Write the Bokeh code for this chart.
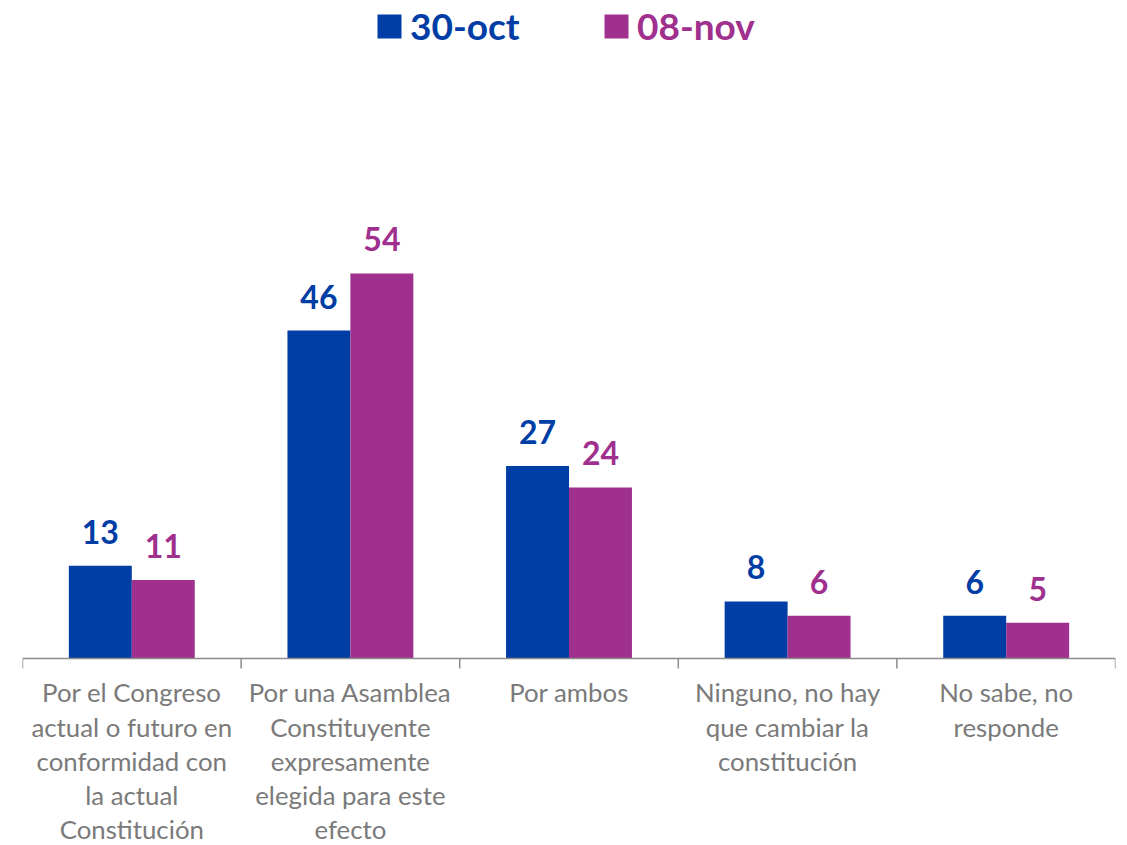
import math
from bokeh.plotting import figure
from bokeh.models import ColumnDataSource, Range1d, Legend, LegendItem, Span
from bokeh.core.properties import value
from bokeh.embed import file_html
from bokeh.resources import INLINE

categories = [
    "Por el Congreso\nactual o futuro en\nconformidad con\nla actual\nConstitución",
    "Por una Asamblea\nConstituyente\nexpresamente\nelegida para este\nefecto",
    "Por ambos",
    "Ninguno, no hay\nque cambiar la\nconstitución",
    "No sabe, no\nresponde",
]
series_names = ["30-oct", "08-nov"]
oct30 = [13, 46, 27, 8, 6]
nov08 = [11, 54, 24, 6, 5]

BLUE = "#003DA5"
PURPLE = "#A0308E"
GREY_TXT = "#7A7A7A"
AXIS_GREY = "#8C8C8C"

n = len(categories)
centers = [i + 0.5 for i in range(n)]
bounds = list(range(n + 1))
bw = 0.288
x_oct = [c - bw / 2 for c in centers]
x_nov = [c + bw / 2 for c in centers]

src_oct = ColumnDataSource(dict(x=x_oct, top=oct30, lbl=[str(v) for v in oct30]))
src_nov = ColumnDataSource(dict(x=x_nov, top=nov08, lbl=[str(v) for v in nov08]))
src_cat = ColumnDataSource(dict(x=centers, y=[0] * n, txt=categories))
src_tick = ColumnDataSource(dict(x=bounds, y=[0] * len(bounds)))

p = figure(width=1127, height=845, output_backend="svg", toolbar_location=None,
           x_range=Range1d(0, n), y_range=Range1d(-26.23, 92.29),
           x_axis_location=None, y_axis_location=None,
           min_border_left=22, min_border_right=12, min_border_top=0, min_border_bottom=0)
p.outline_line_color = None
p.xgrid.visible = False
p.ygrid.visible = False
p.background_fill_color = "white"
p.border_fill_color = "white"

r1 = p.vbar(x="x", top="top", width=bw, bottom=0, source=src_oct, fill_color=BLUE, line_color=None)
r2 = p.vbar(x="x", top="top", width=bw, bottom=0, source=src_nov, fill_color=PURPLE, line_color=None)

# category axis: baseline, boundary ticks and labels
p.add_layout(Span(location=0, dimension="width", line_color=AXIS_GREY, line_width=1.5))
p.ray(x="x", y="y", source=src_tick, length=10, length_units="screen", angle=-math.pi / 2,
      line_color=AXIS_GREY, line_width=1.5)
p.text(x="x", y="y", text="txt", source=src_cat, text_align="center", text_baseline="top",
       y_offset=19, text_color=GREY_TXT, text_font=value("Lato"), text_font_size="25.8px",
       text_line_height=1.14)

for src, col in ((src_oct, BLUE), (src_nov, PURPLE)):
    p.text(x="x", y="top", text="lbl", source=src, text_align="center", text_baseline="bottom",
           y_offset=-22, text_color=col, text_font=value("Lato"), text_font_size="32px",
           text_font_style="bold")

for rend, name, col, loc in ((r1, series_names[0], BLUE, (352, 797)),
                             (r2, series_names[1], PURPLE, (579, 797))):
    lg = Legend(items=[LegendItem(label=name, renderers=[rend])], location=loc,
                glyph_width=30, glyph_height=30, label_standoff=6,
                label_text_font="Lato", label_text_font_size="37px",
                label_text_font_style="bold", label_text_color=col,
                padding=0, margin=0, spacing=0, border_line_alpha=0,
                background_fill_alpha=0, orientation="horizontal")
    p.add_layout(lg, "center")

open("out.html", "w").write(file_html(p, INLINE))
